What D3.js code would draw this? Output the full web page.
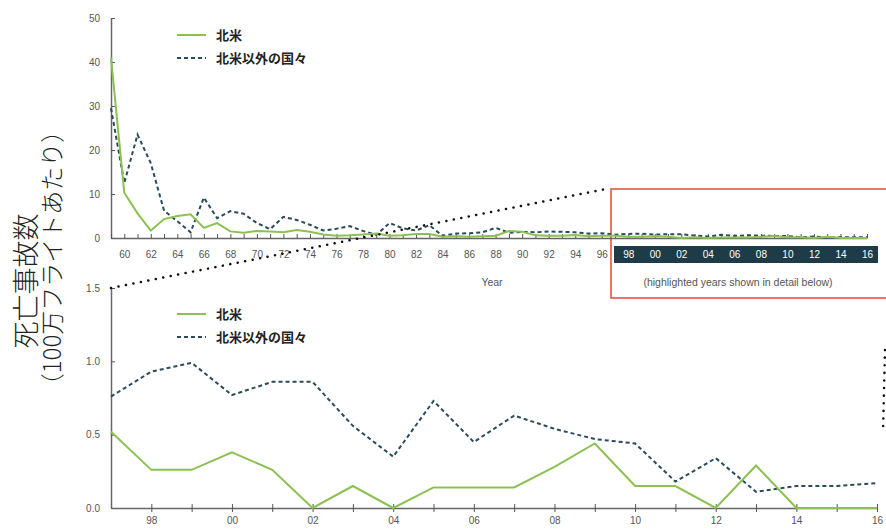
<!DOCTYPE html>
<html>
<head>
<meta charset="utf-8">
<script src="https://cdn.jsdelivr.net/npm/d3@7"></script>
<style>
  body { margin: 0; background: #fff; }
  svg { font-family: "Liberation Sans", Arial, sans-serif; }
  .jp { font-family: "Noto Sans CJK JP", sans-serif; }
</style>
</head>
<body>
<div id="chart"></div>
<script>
// données : années et taux (par million de vols)
const anneesHaut = d3.range(1959, 2017);
const anneesBas = d3.range(1997, 2017);

// 1959 -> 1996 (ensuite on reprend les valeurs du zoom)
const nordAmeriqueAncien = [41, 10.3, 5.6, 1.7, 4.3, 5, 5.4, 2.3, 3.4, 1.5, 1.2, 1.6, 1.5, 1.3, 1.8, 1.4,
  0.8, 0.5, 0.6, 0.8, 1.0, 0.5, 0.6, 0.9, 0.9, 0.3, 0.4, 0.3, 0.4, 0.5, 1.6, 1.4, 0.6, 0.5, 0.5, 0.7, 0.4, 0.5];
const autresAncien = [29.5, 12.5, 23.5, 17, 6.2, 3.8, 1.3, 9.2, 4.5, 6.1, 5.5, 3.4, 2.0, 4.8, 4.1, 3.0,
  1.7, 2.1, 2.7, 1.6, 0.7, 3.4, 2.2, 1.7, 2.9, 0.5, 1.0, 1.1, 1.3, 2.3, 1.2, 1.4, 1.3, 1.5, 1.4, 1.3, 1.0, 1.1];

// 1997 -> 2016
const nordAmerique = [0.52, 0.26, 0.26, 0.38, 0.26, 0.0, 0.15, 0.0, 0.14, 0.14, 0.14, 0.28, 0.44, 0.15, 0.15, 0.0, 0.29, 0.0, 0.0, 0.0];
const autres = [0.76, 0.93, 0.99, 0.77, 0.86, 0.86, 0.56, 0.35, 0.73, 0.45, 0.63, 0.54, 0.47, 0.44, 0.18, 0.34, 0.11, 0.15, 0.15, 0.17];

const ticksHautY = [0, 10, 20, 30, 40, 50];
const ticksBasY = [0, 0.5, 1.0, 1.5];
const legende = ["北米", "北米以外の国々"];

const vert = "#8cc152";
const bleu = "#2c4b5a";
const bande = "#1e3c47";

const svg = d3.select("#chart").append("svg").attr("width", 886).attr("height", 529);

const serieHaut = [nordAmeriqueAncien.concat(nordAmerique), autresAncien.concat(autres)];
const serieBas = [nordAmerique, autres];

// ---------- graphique du haut ----------
const xHaut = d3.scaleLinear().domain([1959, 2016]).range([111, 867]);
const yHaut = d3.scaleLinear().domain([0, 50]).range([238, 18]);

// bande sombre + cadre rouge
svg.append("rect").attr("x", 614).attr("y", 246).attr("width", 264).attr("height", 17).attr("fill", bande);
svg.append("rect").attr("x", 611).attr("y", 189).attr("width", 290).attr("height", 109)
  .attr("fill", "none").attr("stroke", "#e5553f").attr("stroke-width", 1.6);

svg.append("g").attr("transform", "translate(111,0)")
  .call(d3.axisLeft(yHaut).tickValues(ticksHautY).tickSizeInner(-4).tickSizeOuter(0).tickPadding(11));
const axeXHaut = svg.append("g").attr("transform", "translate(0,238)")
  .call(d3.axisBottom(xHaut).tickValues(anneesHaut).tickSizeInner(-4).tickSizeOuter(0).tickPadding(13)
    .tickFormat(a => (a % 2 == 0) ? d3.format("02")(a % 100) : ""));
axeXHaut.selectAll(".tick text").attr("fill", a => a >= 1998 ? "#fff" : "#555");

const ligne = (x, y) => d3.line().x(d => x(d[0])).y(d => y(d[1]));

function traceSeries(x, y, annees, series) {
  const l = ligne(x, y);
  svg.append("path").datum(annees.map((a, i) => [a, series[1][i]]))
    .attr("d", l).attr("fill", "none").attr("stroke", bleu).attr("stroke-width", 2)
    .attr("stroke-dasharray", "4,3");
  svg.append("path").datum(annees.map((a, i) => [a, series[0][i]]))
    .attr("d", l).attr("fill", "none").attr("stroke", vert).attr("stroke-width", 2);
}
traceSeries(xHaut, yHaut, anneesHaut, serieHaut);

svg.append("text").attr("x", 492).attr("y", 286).attr("text-anchor", "middle")
  .attr("font-size", 10.5).attr("fill", "#555").text("Year");
svg.append("text").attr("x", 738).attr("y", 286).attr("text-anchor", "middle")
  .attr("font-size", 10.5).attr("fill", "#555").text("(highlighted years shown in detail below)");

// ---------- graphique du bas ----------
const xBas = d3.scaleLinear().domain([1997, 2016]).range([111, 877]);
const yBas = d3.scaleLinear().domain([0, 1.5]).range([508, 288]);

svg.append("g").attr("transform", "translate(111,0)")
  .call(d3.axisLeft(yBas).tickValues(ticksBasY).tickSizeInner(-4).tickSizeOuter(0).tickPadding(11)
    .tickFormat(d3.format(".1f")));
const axeXBas = svg.append("g").attr("transform", "translate(0,508)")
  .call(d3.axisBottom(xBas).tickValues(anneesBas.slice(1)).tickSizeInner(4).tickSizeOuter(0).tickPadding(5)
    .tickFormat(a => (a % 2 == 0) ? d3.format("02")(a % 100) : ""));
axeXBas.selectAll(".tick line").attr("y1", -4);

traceSeries(xBas, yBas, anneesBas, serieBas);

// style commun des axes
svg.selectAll(".domain").attr("stroke", "#666").attr("stroke-width", 1.5);
svg.selectAll(".tick line").attr("stroke", "#555");
svg.selectAll(".tick text").attr("font-size", 10).attr("font-family", "Liberation Sans, Arial, sans-serif");
svg.selectAll(".tick text").filter(function () { return d3.select(this).attr("fill") != "#fff"; }).attr("fill", "#555");

// ---------- légendes ----------
function legendeA(y0) {
  legende.forEach((t, i) => {
    const y = y0 + i * 23;
    svg.append("line").attr("x1", 177).attr("x2", 206).attr("y1", y).attr("y2", y)
      .attr("stroke", i == 0 ? vert : bleu).attr("stroke-width", 2)
      .attr("stroke-dasharray", i == 0 ? null : "4,3");
    svg.append("text").attr("class", "jp").attr("x", 216).attr("y", y + 4.5)
      .attr("font-size", 13).attr("font-weight", "bold").attr("fill", "#222").text(t);
  });
}
legendeA(35);
legendeA(314);

// ---------- lignes pointillées de zoom ----------
svg.append("line").attr("x1", 111).attr("y1", 288).attr("x2", 606).attr("y2", 189)
  .attr("stroke", "#111").attr("stroke-width", 2.5).attr("stroke-dasharray", "0.1,7.5").attr("stroke-linecap", "round");
svg.append("line").attr("x1", 885).attr("y1", 350).attr("x2", 883).attr("y2", 432)
  .attr("stroke", "#111").attr("stroke-width", 2.5).attr("stroke-dasharray", "0.1,7.5").attr("stroke-linecap", "round");

// ---------- titre de l'axe Y ----------
svg.append("text").attr("class", "jp").attr("transform", "translate(36,281) rotate(-90)")
  .attr("text-anchor", "middle").attr("fill", "#222").attr("font-weight", 300)
  .attr("font-size", 27).text("死亡事故数");
svg.append("text").attr("class", "jp").attr("transform", "translate(61,258) rotate(-90)")
  .attr("text-anchor", "middle").attr("fill", "#222").attr("font-weight", 300)
  .attr("font-size", 24).text("（100万フライトあたり）");
</script>
</body>
</html>
